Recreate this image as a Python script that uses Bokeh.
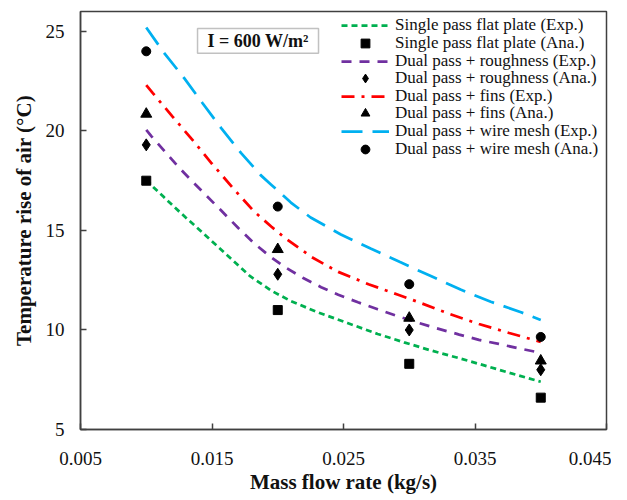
from bokeh.plotting import figure
from bokeh.models import FixedTicker, Legend, LegendItem, Label, BoxAnnotation
from bokeh.embed import file_html
from bokeh.resources import INLINE

# ---- data ----
flow_rate = [0.01, 0.02, 0.03, 0.04]
ana_single = [17.5, 11.0, 8.3, 6.6]
ana_rough = [19.3, 12.8, 10.0, 8.0]
ana_fins = [20.85, 14.05, 10.6, 8.45]
ana_mesh = [24.0, 16.2, 12.3, 9.65]

exp_single_x = [0.0100, 0.0105, 0.0113, 0.0121, 0.0130, 0.0141, 0.0160, 0.0179, 0.0195,
                0.0210, 0.0230, 0.0253, 0.0276, 0.0296, 0.0316, 0.0337, 0.0357, 0.0377, 0.0400]
exp_single_y = [17.55, 17.2, 16.7, 16.2, 15.65, 15.0, 13.85, 12.7, 11.98,
                11.45, 10.9, 10.35, 9.8, 9.38, 8.98, 8.6, 8.22, 7.83, 7.4]

exp_rough_x = [0.0100, 0.0104, 0.0115, 0.0125, 0.0136, 0.0146, 0.0157, 0.0170, 0.0182, 0.0195,
               0.0205, 0.0219, 0.0233, 0.0246, 0.0261, 0.0276, 0.0290, 0.0305, 0.0321, 0.0338,
               0.0353, 0.0368, 0.0383, 0.0400]
exp_rough_y = [20.05, 19.73, 18.9, 18.15, 17.4, 16.73, 16.0, 15.12, 14.35, 13.65,
               13.18, 12.62, 12.15, 11.77, 11.39, 11.04, 10.72, 10.4, 10.08, 9.77,
               9.5, 9.3, 9.08, 8.85]

exp_fins_x = [0.0100, 0.0105, 0.0120, 0.0136, 0.0150, 0.0167, 0.0182, 0.0195, 0.0205,
              0.0226, 0.0246, 0.0269, 0.0291, 0.0307, 0.0331, 0.0353, 0.0376, 0.0400]
exp_fins_y = [22.3, 21.9, 20.72, 19.48, 18.35, 17.05, 15.95, 15.2, 14.65,
              13.65, 12.92, 12.3, 11.78, 11.4, 10.8, 10.3, 9.85, 9.4]

exp_mesh_x = [0.0100, 0.0113, 0.0129, 0.0143, 0.0157, 0.0172, 0.0187, 0.0195, 0.0210,
              0.0225, 0.0248, 0.0271, 0.0293, 0.0316, 0.0339, 0.0362, 0.0385, 0.0400]
exp_mesh_y = [25.2, 23.97, 22.64, 21.38, 20.14, 18.9, 17.78, 17.3, 16.4,
              15.65, 14.8, 14.08, 13.41, 12.72, 12.03, 11.42, 10.89, 10.5]

x_ticks = [0.005, 0.015, 0.025, 0.035, 0.045]
x_tick_labels = ["0.005", "0.015", "0.025", "0.035", "0.045"]
y_ticks = [5, 10, 15, 20, 25]

labels = ["Single pass flat plate (Exp.)", "Single pass flat plate (Ana.)",
          "Dual pass + roughness (Exp.)", "Dual pass + roughness (Ana.)",
          "Dual pass + fins (Exp.)", "Dual pass + fins (Ana.)",
          "Dual pass + wire mesh (Exp.)", "Dual pass + wire mesh (Ana.)"]

SERIF = "Liberation Serif"
GREEN, PURPLE, RED, BLUE = "#00B050", "#7030A0", "#FF0000", "#00B0F0"

FRAME_H = 421
p = figure(width=611, height=496, x_range=(0.005, 0.045), y_range=(5, 26),
           output_backend="svg", toolbar_location=None,
           min_border_left=80, min_border_top=11, min_border_right=5, min_border_bottom=64)
p.xgrid.visible = False
p.ygrid.visible = False
p.outline_line_color = "#404040"
p.outline_line_width = 1.5
p.background_fill_color = "white"
p.border_fill_color = "white"

for ax in (p.xaxis[0], p.yaxis[0]):
    ax.axis_line_color = "#404040"
    ax.axis_line_width = 1.5
    ax.major_tick_line_color = "#404040"
    ax.major_tick_line_width = 1.5
    ax.major_tick_in = 6
    ax.major_tick_out = 0
    ax.minor_tick_line_color = None
    ax.major_label_text_font = SERIF
    ax.major_label_text_font_size = "19px"
    ax.major_label_text_color = "#111111"
    ax.axis_label_text_font = SERIF
    ax.axis_label_text_font_style = "bold"
    ax.axis_label_text_font_size = "21px"
    ax.axis_label_text_color = "#111111"

p.xaxis.ticker = FixedTicker(ticks=x_ticks)
p.xaxis.major_label_overrides = dict(zip(x_ticks, x_tick_labels))
p.yaxis.ticker = FixedTicker(ticks=y_ticks)
p.xaxis.axis_label = "Mass flow rate (kg/s)"
p.yaxis.axis_label = "Temperature rise of air (°C)"
p.xaxis.major_label_standoff = 22
p.xaxis.axis_label_standoff = 2
p.yaxis.major_label_standoff = 16
p.yaxis.axis_label_standoff = 7

LW = 2.75
l1 = p.line(exp_single_x, exp_single_y, color=GREEN, line_width=LW, line_dash="6 4")
l2 = p.line(exp_rough_x, exp_rough_y, color=PURPLE, line_width=LW, line_dash="10 8")
l3 = p.line(exp_fins_x, exp_fins_y, color=RED, line_width=LW, line_dash="13 7 3 7")
l4 = p.line(exp_mesh_x, exp_mesh_y, color=BLUE, line_width=LW, line_dash="21 10")

m1 = p.scatter(flow_rate, ana_single, marker="square", size=9, color="black")
m2 = p.scatter(flow_rate, ana_rough, marker="diamond", size=12, color="black")
m3 = p.scatter(flow_rate, ana_fins, marker="triangle", size=11, color="black")
m4 = p.scatter(flow_rate, ana_mesh, marker="circle", size=9, color="black")

renderers = [l1, m1, l2, m2, l3, m3, l4, m4]

# legend: one row per Legend so the row pitch matches the reference
ROW0_FROM_TOP = 17.3   # centre of first row below frame top (px)
ROW_STEP = 17.63
ITEM_H = 22
for i, (t, r) in enumerate(zip(labels, renderers)):
    centre_from_bottom = FRAME_H - (ROW0_FROM_TOP + i * ROW_STEP)
    lg = Legend(items=[LegendItem(label=t, renderers=[r])],
                location=(261, centre_from_bottom - ITEM_H / 2),
                padding=0, spacing=0, margin=0,
                glyph_width=48, glyph_height=ITEM_H, label_height=ITEM_H, label_standoff=6,
                label_text_font=SERIF, label_text_font_size="17px",
                label_text_color="#111111",
                background_fill_alpha=0, border_line_alpha=0)
    p.add_layout(lg)

# annotation box
p.add_layout(BoxAnnotation(left=0.0139, right=0.0231, bottom=23.9, top=25.15,
                           fill_color="white", fill_alpha=1,
                           line_color="#333333", line_width=1.5))
p.add_layout(Label(x=0.0185, y=24.53, text="I = 600 W/m²", text_align="center",
                   text_baseline="middle", text_font=SERIF, text_font_style="bold",
                   text_font_size="18px", text_color="#111111"))

open("out.html", "w").write(file_html(p, INLINE))
